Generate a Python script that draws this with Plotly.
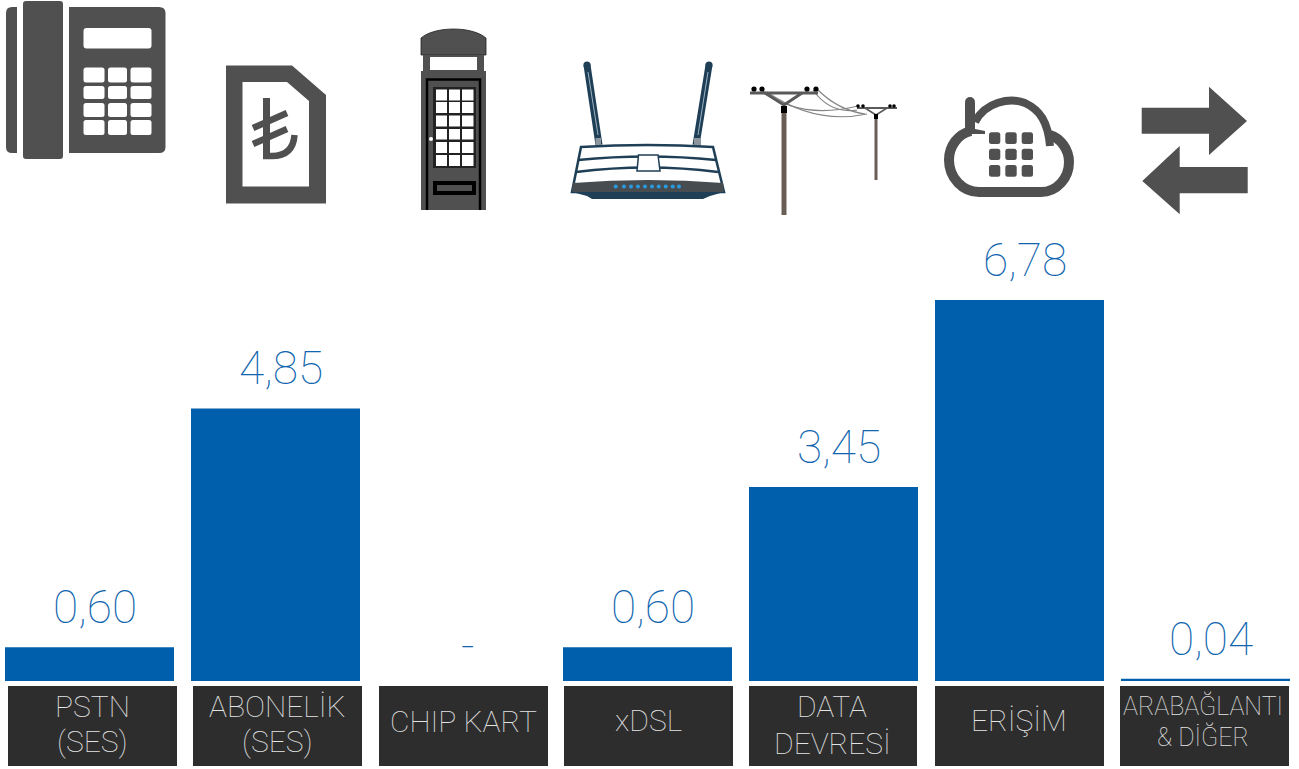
import plotly.graph_objects as go

categories = ["PSTN (SES)", "ABONELİK (SES)", "CHIP KART", "xDSL", "DATA DEVRESİ", "ERİŞİM", "ARABAĞLANTI & DİĞER"]
values = [0.60, 4.85, 0.0, 0.60, 3.45, 6.78, 0.04]
value_labels = ["0,60", "4,85", "-", "0,60", "3,45", "6,78", "0,04"]
tick_line_1 = ["PSTN", "ABONELİK", "CHIP KART", "xDSL", "DATA", "ERİŞİM", "ARABAĞLANTI"]
tick_line_2 = ["(SES)", "(SES)", "", "", "DEVRESİ", "", "& DİĞER"]

W, H = 1299, 769
BLUE = "#005fad"
GREY = "#505050"
BOX = "#2d2d2d"
FONT = "Roboto"

shapes = []

def fill(path, color=GREY, line=None, lw=0):
    shapes.append(dict(type="path", xref="x2", yref="y2", path=path, fillcolor=color,
                       line=dict(color=line or color, width=lw), layer="above"))

def stroke(path, color=GREY, lw=2):
    shapes.append(dict(type="path", xref="x2", yref="y2", path=path,
                       line=dict(color=color, width=lw), layer="above"))

def rect(x0, y0, x1, y1, color=GREY, layer="above"):
    shapes.append(dict(type="rect", xref="x2", yref="y2", x0=x0, y0=y0, x1=x1, y1=y1,
                       fillcolor=color, line=dict(width=0), layer=layer))

def circle(cx, cy, r, color):
    shapes.append(dict(type="circle", xref="x2", yref="y2", x0=cx-r, y0=cy-r, x1=cx+r, y1=cy+r,
                       fillcolor=color, line=dict(width=0), layer="above"))

def rrect(x0, y0, x1, y1, r, color=GREY):
    fill(f"M{x0+r},{y0} L{x1-r},{y0} Q{x1},{y0} {x1},{y0+r} L{x1},{y1-r} Q{x1},{y1} {x1-r},{y1} "
         f"L{x0+r},{y1} Q{x0},{y1} {x0},{y1-r} L{x0},{y0+r} Q{x0},{y0} {x0+r},{y0} Z", color)

# Telephone
fill("M17,7 L17,153 L12,153 Q6,153 6,147 L6,13 Q6,7 12,7 Z")
rrect(23, 1, 63, 159, 3)
fill("M69,7 L159,7 Q165.5,7 165.5,13 L165.5,147 Q165.5,153 159,153 L69,153 Z")
rrect(83.5, 28, 151.5, 48.5, 3, "white")
for y0, y1 in [(67.5, 82.5), (86, 99), (103, 117), (120, 135)]:
    for x0, x1 in [(83.5, 104.5), (108, 127), (130.5, 151.5)]:
        rrect(x0, y0, x1, y1, 2.5, "white")

# SIM card with lira sign
fill("M226,65.5 L292,65.5 L326,95 L326,203.5 L226,203.5 Z")
fill("M242.5,82 L287,82 L309,101 L309,186.5 L242.5,186.5 Z", "white")
stroke("M266.5,98 L266.5,158", lw=7)
stroke("M253,128 L287,113", lw=6.5)
stroke("M253,144 L287,129", lw=6.5)
stroke("M263,156 L272,156 Q293,156 294.5,135", lw=6.5)

# Phone booth
fill("M421,55 L421,38 C435,26 472,26 486,38 L486,55 Z", GREY, "#222222", 0.8)
rect(423, 55, 484, 71)
rect(430, 57, 477, 70, "white")
rect(421, 71, 486, 210)
stroke("M427,210 L427,79.5 L480,79.5 L480,210", "black", 2.5)
rect(433, 87, 476, 168, "#222222")
for y0, y1 in [(89.5, 100.5), (102, 113), (115.5, 126.5), (129, 139.5), (142, 153), (155, 166)]:
    for x0, x1 in [(436, 447), (449, 460), (462, 473.5)]:
        rect(x0, y0, x1, y1, "white")
circle(431, 139, 2, "white")
rect(433, 181, 476, 195, "black")
rect(437, 185, 472, 191, GREY)

# Router
NAVY = "#1f3f57"
stroke("M587,65 L599,145", NAVY, 7)
stroke("M709,65 L696,145", NAVY, 7)
stroke("M588,72 L598,135", "#9fb4c2", 1)
stroke("M708,72 L698,135", "#9fb4c2", 1)
circle(587, 65, 3.6, NAVY)
circle(709, 65, 3.6, NAVY)
rect(595.5, 138, 601, 146, "#8c969c")
rect(694, 138, 701, 146, "#8c969c")
fill("M581,147 Q648,143 713,147 L724,192 L572,192 Z", "white", NAVY, 2.5)
stroke("M578,160 Q648,153 716,160", NAVY, 2.5)
stroke("M576,172 Q648,163 718,172", NAVY, 2.5)
fill("M638.5,155 L658,155 L660,171 L637,171 Z", "white", NAVY, 1.5)
fill("M573,183 Q648,177 723,183 L724,192 L572,192 Z", "#474c50")
fill("M572,192 L724,192 L710,196 L703,199 L592,199 L587,196 Z", NAVY)
for cx in [615.7, 624, 631, 638, 645, 652, 658.7, 665.7, 672.7, 679]:
    circle(cx, 186.5, 2, "#2a9ae0")

# Utility poles
for p in ["M763,91 Q800,120 858,106", "M767,92 Q815,125 867,114", "M813,90 Q830,114 857,110", "M818,90 Q838,110 865,114"]:
    stroke(p, "#858585", 1.2)
stroke("M784,110 L784,215", "#6a5d58", 5)
stroke("M750,93 L818,93", "#5a5a5a", 3)
stroke("M765,93 L784,105 L802,93", "#5a5a5a", 3)
rect(781, 106, 787, 113, "black")
for cx in [754, 762, 807, 816]:
    circle(cx, 89, 2.6, "black")
stroke("M876,117 L876,180", "#6a5d58", 3)
stroke("M857,108 L897,108", "#5a5a5a", 2)
stroke("M865,108 L876,115 L887,108", "#5a5a5a", 1.5)
rect(874, 114, 878, 119, "black")
for cx in [858, 863, 890, 894]:
    circle(cx, 106, 1.8, "black")

# Cloud
stroke("M970,103 L970,130", GREY, 10)
circle(970, 102, 5, GREY)
stroke("M971,131 C958,134 949,146 949,160 C949,178 963,192 979,192 L1041,192 C1057,192 1069,178 1069,162 C1069,149 1060,138 1050,135", GREY, 10)
stroke("M975,122 C985,102 1010,97 1025,103 C1040,110 1048,122 1050,146", GREY, 8)
fill("M970,128 L985,131 L985,134 L966,134 Z")
for y0, y1 in [(132.3, 144), (148.7, 160), (165, 176.7)]:
    for x0, x1 in [(989, 1000.3), (1005.3, 1016.7), (1021.7, 1033)]:
        rrect(x0, y0, x1, y1, 2.5)

# Arrows
fill("M1141.7,107.7 L1209,107.7 L1209,86.7 L1247,121 L1209,155 L1209,133.7 L1141.7,133.7 Z")
fill("M1247.7,167 L1179.7,167 L1179.7,146 L1142.3,181 L1179.7,214.3 L1179.7,193.3 L1247.7,193.3 Z")

# Category plates
for x0, x1 in [(8, 177), (193, 362), (379, 548), (564, 733), (749, 917), (935, 1104), (1120, 1289)]:
    rect(x0, 686, x1, 766, BOX)

fig = go.Figure(go.Bar(x=categories, y=values, marker=dict(color=BLUE, line=dict(width=0)),
                       width=169 / 186, hoverinfo="skip"))

annotations = []
for i, (v, t) in enumerate(zip(values, value_labels)):
    annotations.append(dict(x=i, y=v, xref="x", yref="y", text=t, showarrow=False,
                            xshift=6.5 if t == "-" else 5.5,
                            yanchor="bottom", yshift=6 if t == "-" else 11,
                            font=dict(family=FONT, size=46, color="#0f65ae", weight=100)))
label_x = [92.5, 277.5, 463, 648, 832, 1019, 1203]
line1_y = [706, 706, 721, 720, 706, 720, 706]
line2_y = [741, 741, 0, 0, 743, 0, 737]
label_sizes = [30, 30, 30, 30, 30, 30, 25]
for t1, t2, x, y1, y2, s in zip(tick_line_1, tick_line_2, label_x, line1_y, line2_y, label_sizes):
    for t, y in ((t1, y1), (t2, y2)):
        if t:
            annotations.append(dict(x=x, y=y, xref="x2", yref="y2", text=t, showarrow=False,
                                    font=dict(family=FONT, size=s, color="#e4e4e4", weight=100)))

fig.update_layout(
    width=W, height=H, margin=dict(l=0, r=0, t=0, b=0, pad=0),
    plot_bgcolor="white", paper_bgcolor="white", showlegend=False,
    xaxis=dict(type="category", categoryorder="array", categoryarray=categories,
               range=[-0.4812, 6.5027], visible=False, fixedrange=True),
    yaxis=dict(range=[-1.566, 12.117], visible=False, fixedrange=True),
    xaxis2=dict(range=[0, W], overlaying="x", visible=False, fixedrange=True, anchor="y2"),
    yaxis2=dict(range=[H, 0], overlaying="y", visible=False, fixedrange=True, anchor="x2"),
    shapes=shapes, annotations=annotations,
)
fig.write_html("out.html", config=dict(displayModeBar=False),
               post_script="document.body.style.margin='0';document.body.style.overflow='hidden';")
